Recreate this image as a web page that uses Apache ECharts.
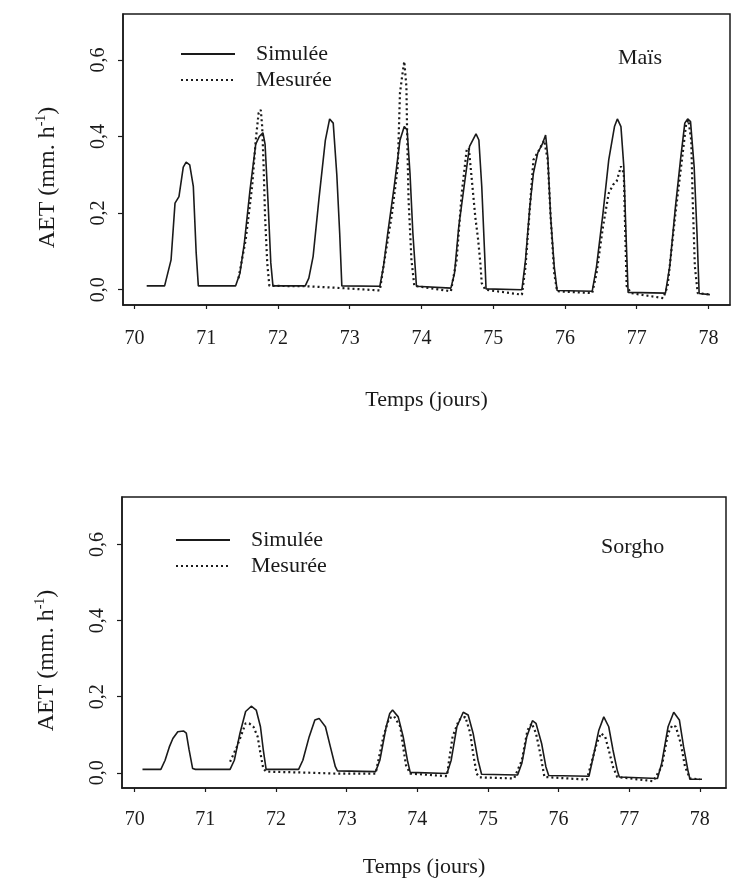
<!DOCTYPE html>
<html>
<head>
<meta charset="utf-8">
<script src="https://cdn.jsdelivr.net/npm/echarts@6.0.0/dist/echarts.min.js"></script>
<style>
html,body{margin:0;padding:0;background:#fff;}
#chart{width:736px;height:891px;}
</style>
</head>
<body>
<div id="chart"></div>
<script>
// ---- data (day, AET mm/h) ----
const dayTicks = [70, 71, 72, 73, 74, 75, 76, 77, 78];
const aetTicks = [0, 0.2, 0.4, 0.6];
const seriesNames = ['Simulée', 'Mesurée'];
const cropNames = ['Maïs', 'Sorgho'];

const maisSimulee = [
[70.17,0.01],[70.42,0.01],[70.51,0.078],[70.565,0.226],[70.62,0.243],[70.68,0.32],[70.72,0.333],[70.77,0.326],[70.82,0.27],[70.86,0.096],[70.89,0.01],
[71.41,0.01],[71.47,0.043],[71.53,0.12],[71.61,0.26],[71.69,0.38],[71.74,0.40],[71.79,0.41],[71.82,0.38],[71.86,0.235],[71.9,0.07],[71.93,0.01],
[72.38,0.01],[72.43,0.03],[72.49,0.087],[72.57,0.235],[72.66,0.39],[72.72,0.446],[72.77,0.435],[72.82,0.30],[72.86,0.148],[72.89,0.01],
[73.42,0.009],[73.47,0.06],[73.53,0.148],[73.62,0.27],[73.7,0.39],[73.76,0.426],[73.8,0.417],[73.84,0.304],[73.88,0.148],[73.93,0.009],
[74.41,0.004],[74.46,0.043],[74.52,0.165],[74.6,0.278],[74.67,0.374],[74.76,0.407],[74.8,0.391],[74.84,0.27],[74.88,0.096],[74.9,0.002],
[75.4,0.0],[75.45,0.078],[75.51,0.217],[75.56,0.304],[75.62,0.357],[75.69,0.383],[75.73,0.404],[75.76,0.348],[75.8,0.191],[75.85,0.061],[75.89,-0.002],
[76.38,-0.004],[76.44,0.061],[76.53,0.2],[76.61,0.339],[76.69,0.426],[76.73,0.446],[76.78,0.426],[76.82,0.322],[76.85,0.148],[76.88,-0.007],
[77.4,-0.009],[77.46,0.061],[77.54,0.217],[77.61,0.339],[77.67,0.435],[77.71,0.446],[77.75,0.439],[77.8,0.322],[77.84,0.148],[77.87,-0.01],
[78.02,-0.013]
];
const maisMesuree = [
[71.45,0.03],[71.55,0.13],[71.64,0.27],[71.69,0.39],[71.73,0.461],[71.76,0.47],[71.78,0.426],[71.8,0.322],[71.82,0.191],[71.85,0.07],[71.88,0.01],
[72.4,0.009],[72.9,0.004],[73.42,-0.002],
[73.47,0.06],[73.59,0.2],[73.67,0.322],[73.7,0.513],[73.73,0.557],[73.76,0.596],[73.79,0.53],[73.8,0.409],[73.82,0.235],[73.86,0.078],[73.9,0.01],
[74.41,-0.004],
[74.49,0.078],[74.56,0.25],[74.63,0.365],[74.66,0.37],[74.71,0.27],[74.75,0.19],[74.79,0.13],[74.82,0.07],[74.84,0.017],[74.89,0.0],
[75.4,-0.013],
[75.45,0.06],[75.56,0.339],[75.64,0.365],[75.71,0.39],[75.76,0.339],[75.8,0.19],[75.85,0.043],[75.89,-0.004],
[76.38,-0.009],
[76.44,0.043],[76.53,0.165],[76.61,0.252],[76.67,0.274],[76.72,0.283],[76.78,0.322],[76.82,0.304],[76.84,0.148],[76.86,0.009],[76.92,-0.009],
[77.37,-0.022],
[77.43,0.009],[77.54,0.2],[77.63,0.339],[77.69,0.435],[77.72,0.443],[77.76,0.39],[77.78,0.235],[77.81,0.061],[77.85,-0.009],[78.0,-0.012]
];
const sorghoSimulee = [
[70.11,0.009],[70.37,0.009],[70.43,0.033],[70.49,0.068],[70.54,0.09],[70.61,0.108],[70.69,0.11],[70.73,0.104],[70.77,0.06],[70.82,0.011],[70.86,0.009],
[71.35,0.009],[71.41,0.033],[71.49,0.104],[71.57,0.161],[71.65,0.175],[71.72,0.165],[71.78,0.121],[71.82,0.06],[71.86,0.009],
[72.32,0.009],[72.38,0.033],[72.47,0.095],[72.55,0.139],[72.61,0.143],[72.7,0.121],[72.77,0.068],[72.84,0.016],[72.87,0.005],
[73.41,0.003],[73.47,0.033],[73.56,0.121],[73.61,0.156],[73.65,0.165],[73.73,0.147],[73.8,0.095],[73.86,0.033],[73.9,0.001],
[74.42,-0.002],[74.48,0.033],[74.56,0.121],[74.65,0.159],[74.72,0.152],[74.79,0.104],[74.86,0.033],[74.91,-0.004],
[75.42,-0.006],[75.48,0.025],[75.55,0.095],[75.63,0.137],[75.68,0.13],[75.76,0.077],[75.82,0.016],[75.86,-0.007],
[76.43,-0.009],[76.48,0.033],[76.57,0.112],[76.64,0.147],[76.71,0.121],[76.77,0.06],[76.83,0.007],[76.86,-0.011],
[77.4,-0.015],[77.46,0.025],[77.55,0.121],[77.63,0.159],[77.71,0.139],[77.77,0.068],[77.83,0.007],[77.86,-0.017],
[78.03,-0.017]
];
const sorghoMesuree = [
[71.35,0.029],[71.45,0.07],[71.57,0.13],[71.62,0.13],[71.68,0.121],[71.74,0.095],[71.78,0.051],[71.82,0.011],[71.86,0.003],
[72.32,0.001],[72.84,-0.002],[73.41,-0.002],
[73.47,0.051],[73.52,0.095],[73.6,0.143],[73.67,0.149],[73.76,0.121],[73.8,0.068],[73.84,0.02],[73.9,-0.002],
[74.42,-0.009],[74.45,0.033],[74.5,0.095],[74.59,0.139],[74.68,0.147],[74.75,0.104],[74.79,0.051],[74.84,-0.002],[74.88,-0.012],
[75.37,-0.015],[75.48,0.033],[75.56,0.112],[75.62,0.13],[75.68,0.104],[75.74,0.051],[75.8,-0.011],
[76.4,-0.018],[76.45,0.016],[76.54,0.077],[76.6,0.104],[76.66,0.095],[76.71,0.06],[76.77,0.016],[76.83,-0.011],
[77.34,-0.022],[77.46,0.016],[77.55,0.104],[77.61,0.125],[77.66,0.121],[77.73,0.077],[77.79,0.016],[77.86,-0.015],
[78.0,-0.017]
];

// ---- styling ----
const FONT = '"Liberation Serif", "DejaVu Serif", serif';
const INK = '#1a1a1a';
const fmtComma = v => v.toFixed(1).replace('.', ',');

function makeX(gridIndex, min, max, labelMargin, nameGap) {
  return {
    type: 'value', gridIndex, min, max,
    axisLine: {show: true, onZero: false, lineStyle: {color: INK, width: 1.5}},
    axisTick: {show: true, customValues: dayTicks, length: 4, lineStyle: {color: INK, width: 1.2}},
    axisLabel: {customValues: dayTicks, margin: labelMargin, fontFamily: FONT, fontSize: 20, color: INK,
                formatter: v => String(Math.round(v))},
    splitLine: {show: false},
    name: 'Temps (jours)', nameLocation: 'middle', nameGap,
    nameTextStyle: {fontFamily: FONT, fontSize: 22, color: INK}
  };
}
function makeY(gridIndex, min, max) {
  return {
    type: 'value', gridIndex, min, max,
    axisLine: {show: true, onZero: false, lineStyle: {color: INK, width: 1.5}},
    axisTick: {show: true, customValues: aetTicks, length: 5, lineStyle: {color: INK, width: 1.2}},
    axisLabel: {customValues: aetTicks, rotate: 90, margin: 14, fontFamily: FONT, fontSize: 20, color: INK,
                formatter: fmtComma},
    splitLine: {show: false},
    name: 'AET (mm. h{sup|-1})', nameLocation: 'middle', nameGap: 62,
    nameTextStyle: {fontFamily: FONT, fontSize: 24, color: INK, lineHeight: 27, padding: [0, 36, 0, 0],
      rich: {sup: {fontFamily: FONT, fontSize: 14, color: INK, verticalAlign: 'top', lineHeight: 27}}}
  };
}
function makeSeries(name, idx, data, dotted) {
  return {
    name, type: 'line', xAxisIndex: idx, yAxisIndex: idx, data,
    symbol: 'none', smooth: false, z: dotted ? 3 : 2,
    itemStyle: {color: INK},
    lineStyle: dotted ? {color: INK, width: 2.2, type: [2, 3]} : {color: INK, width: 1.6}
  };
}
function makeLegend(left, top) {
  return {
    data: seriesNames, left, top, orient: 'vertical', itemWidth: 54, itemHeight: 12, itemGap: 4,
    selectedMode: false,
    itemStyle: {opacity: 0},
    textStyle: {fontFamily: FONT, fontSize: 22, color: INK, padding: [0, 0, 0, 16]}
  };
}

const chart = echarts.init(document.getElementById('chart'), null, {renderer: 'canvas'});
chart.setOption({
  backgroundColor: '#fff',
  animation: false,
  title: [
    {text: cropNames[0], left: 613, top: 42, textStyle: {fontFamily: FONT, fontSize: 22, fontWeight: 'normal', color: INK}},
    {text: cropNames[1], left: 596, top: 531, textStyle: {fontFamily: FONT, fontSize: 22, fontWeight: 'normal', color: INK}}
  ],
  legend: [makeLegend(175, 38), makeLegend(170, 524)],
  grid: [
    {left: 123, top: 14, width: 607, height: 291, show: true, borderColor: INK, borderWidth: 1.5, containLabel: false},
    {left: 122, top: 497, width: 604, height: 291, show: true, borderColor: INK, borderWidth: 1.5, containLabel: false}
  ],
  xAxis: [makeX(0, 69.84, 78.3, 24, 84), makeX(1, 69.82, 78.37, 22, 68)],
  yAxis: [makeY(0, -0.04, 0.72), makeY(1, -0.04, 0.725)],
  series: [
    makeSeries(seriesNames[0], 0, maisSimulee, false),
    makeSeries(seriesNames[1], 0, maisMesuree, true),
    makeSeries(seriesNames[0], 1, sorghoSimulee, false),
    makeSeries(seriesNames[1], 1, sorghoMesuree, true)
  ]
});
</script>
</body>
</html>
